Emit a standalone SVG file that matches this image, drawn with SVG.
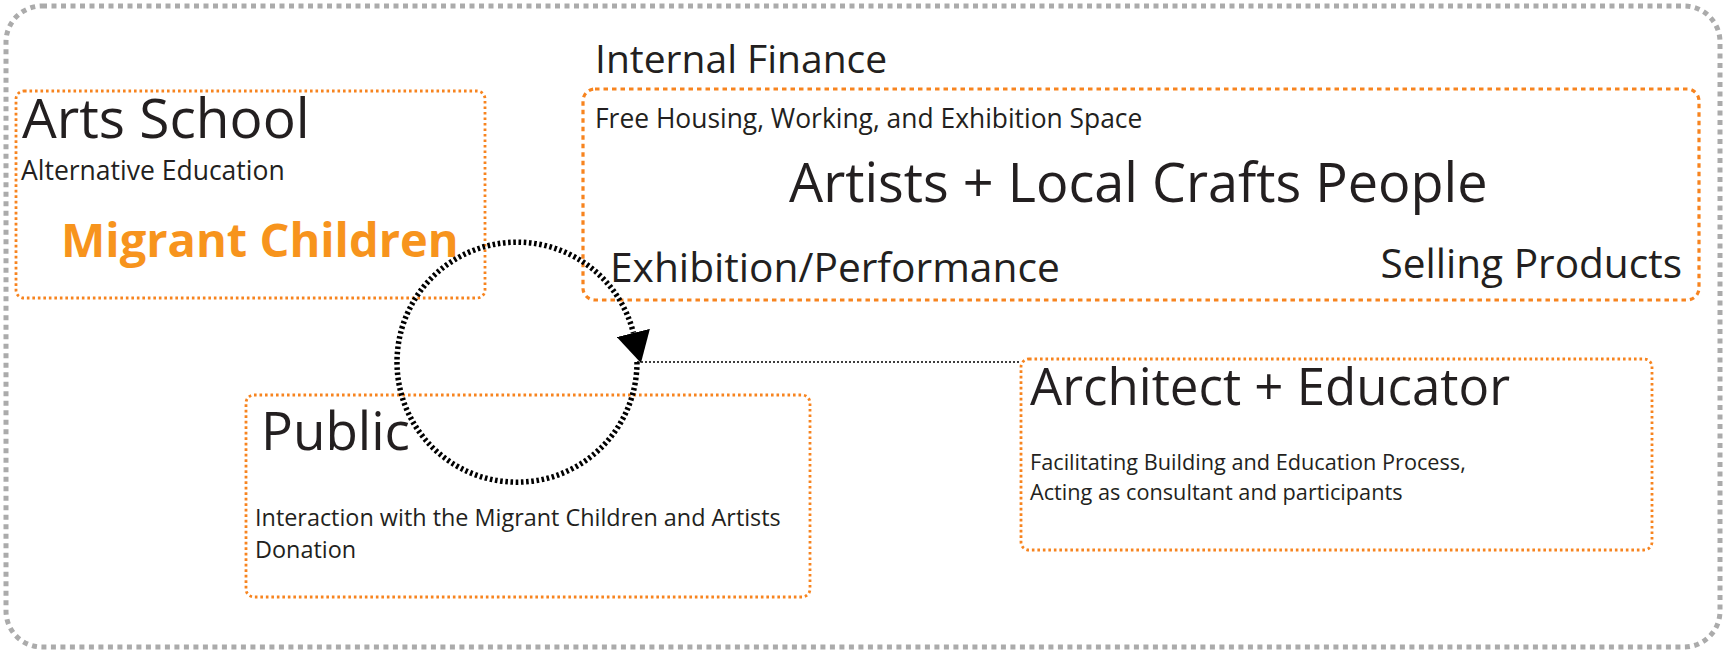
<svg xmlns="http://www.w3.org/2000/svg" width="1725" height="652" viewBox="0 0 1725 652">
<style>
.frame{fill:none;stroke:#ababab;stroke-width:5;stroke-dasharray:5 4.5}
.box{fill:none;stroke:#f7841f;stroke-width:2.8;stroke-dasharray:2.6 2.9}
.box2{fill:none;stroke:#f7841f;stroke-width:3.2;stroke-dasharray:4.5 4}
text{font-family:"Open Sans","Noto Sans","Liberation Sans",sans-serif;fill:#231f20}
.orange{fill:#f7941d;font-weight:bold}
.cycle{fill:none;stroke:#000;stroke-width:5.5;stroke-dasharray:2.6 2.6}
.link{fill:none;stroke:#000;stroke-width:1.5;stroke-dasharray:2 2}
</style>
<defs>
<marker id="arrow" markerUnits="userSpaceOnUse" markerWidth="31" markerHeight="34" viewBox="0 0 31 34" refX="0" refY="17" orient="auto">
<path d="M0,0 L31,17 L0,34 Z" fill="#000"/>
</marker>
</defs>
<rect class="frame" x="6" y="6" width="1714" height="641" rx="36"/>
<text x="595" y="73" font-size="39">Internal Finance</text>
<g id="arts-school">
<rect class="box" x="16" y="91" width="469" height="207" rx="8"/>
<text x="22" y="138" font-size="55">Arts School</text>
<text x="21" y="180" font-size="26.5">Alternative Education</text>
<text class="orange" x="61" y="257" font-size="47">Migrant Children</text>
</g>
<g id="artists">
<rect class="box2" x="583" y="89" width="1116" height="211" rx="12"/>
<text x="595" y="128" font-size="26.4">Free Housing, Working, and Exhibition Space</text>
<text x="789" y="202" font-size="54">Artists + Local Crafts People</text>
<text x="610" y="282" font-size="40.7">Exhibition/Performance</text>
<text x="1682" y="278" font-size="40.6" text-anchor="end">Selling Products</text>
</g>
<g id="public">
<rect class="box" x="246" y="395" width="564" height="202" rx="8"/>
<text x="261" y="450" font-size="53">Public</text>
<text x="255" y="526" font-size="23.4">Interaction with the Migrant Children and Artists</text>
<text x="255" y="558" font-size="23.4">Donation</text>
</g>
<g id="architect">
<rect class="box" x="1021" y="359" width="631" height="191" rx="8"/>
<text x="1030" y="405" font-size="51">Architect + Educator</text>
<text x="1030" y="470" font-size="21.7">Facilitating Building and Education Process,</text>
<text x="1030" y="500" font-size="21.7">Acting as consultant and participants</text>
</g>
<g id="connectors">
<path class="cycle" d="M637,362 A120,120 0 1 1 633.4,333" marker-end="url(#arrow)"/>
<path class="link" d="M637,362 L1021,362"/>
</g>
</svg>
